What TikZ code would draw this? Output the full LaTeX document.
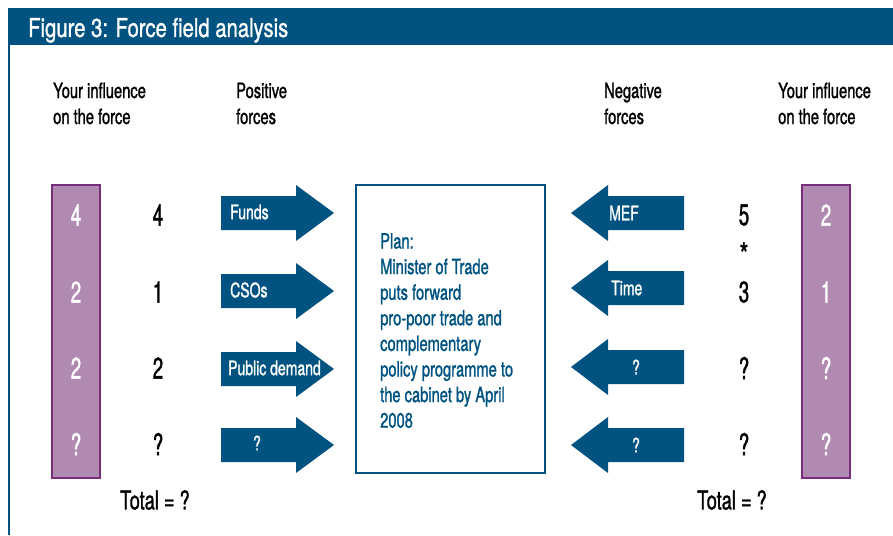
\documentclass[tikz,border=0pt]{standalone}
\usepackage{fontspec}
\setmainfont{TeX Gyre Heros}[FakeStretch=0.70, FakeBold=1.2]
\newfontfamily\titlefont{TeX Gyre Heros}[FakeStretch=0.78, FakeBold=1.0]
\newfontfamily\numfont{TeX Gyre Heros}[FakeStretch=0.62, FakeBold=1.2]
\definecolor{fblue}{RGB}{0,83,128}
\definecolor{fpurf}{RGB}{176,138,176}
\definecolor{fpurd}{RGB}{122,45,122}
\begin{document}
\begin{tikzpicture}[x=1pt,y=-1pt,
  hdr/.style={anchor=base west, inner sep=0, font=\fontsize{21}{24}\selectfont},
  pbox/.style={draw=fpurd, fill=fpurf, line width=2pt, minimum width=48pt, minimum height=293pt, inner sep=0},
  pnum/.style={white, font=\numfont\fontsize{30}{32}\selectfont, inner sep=0},
  bnum/.style={black, font=\numfont\fontsize{30}{32}\selectfont, inner sep=0},
  alab/.style={white, anchor=west, inner sep=0, font=\fontsize{20}{22}\selectfont},
  qlab/.style={white, inner sep=0, font=\fontsize{20}{22}\selectfont},
  tot/.style={font=\fontsize{26}{28}\selectfont, inner sep=0}
]
\useasboundingbox (0,0) rectangle (893,535);
% title bar
\fill[fblue] (8,8) rectangle (893,45);
\node[anchor=base west, inner sep=0, white, font=\titlefont\fontsize{26}{28}\selectfont] (title) at (28,37) {Figure 3: Force field analysis};
\draw[fblue, line width=2pt] (9,45) -- (9,535);
% headers
\node[hdr] (h1a) at (53,98) {Your influence};
\node[hdr] (h1b) at (53,124) {on the force};
\node[hdr] (h2a) at (236,98) {Positive};
\node[hdr] (h2b) at (236,124) {forces};
\node[hdr] (h3a) at (604,98) {Negative};
\node[hdr] (h3b) at (604,124) {forces};
\node[hdr] (h4a) at (778,98) {Your influence};
\node[hdr] (h4b) at (778,124) {on the force};
% purple boxes
\node[pbox] (lbox) at (76,331.5) {};
\node[pbox] (rbox) at (826,331.5) {};
\node[pnum] (l1) at (76,215) {4};
\node[pnum] (l2) at (76,292) {2};
\node[pnum] (l3) at (76,368) {2};
\node[pnum] (l4) at (76,444) {?};
\node[pnum] (r1) at (826,215) {2};
\node[pnum] (r2) at (826,292) {1};
\node[pnum] (r3) at (826,368) {?};
\node[pnum] (r4) at (826,444) {?};
% black numbers
\node[bnum] (b1) at (158,215) {4};
\node[bnum] (b2) at (158,292) {1};
\node[bnum] (b3) at (158,368) {2};
\node[bnum] (b4) at (158,444) {?};
\node[bnum] (c1) at (744,215) {5};
\node[font=\fontsize{32}{34}\selectfont, inner sep=0] (cs) at (744,254) {*};
\node[bnum] (c2) at (744,292) {3};
\node[bnum] (c3) at (744,368) {?};
\node[bnum] (c4) at (744,444) {?};
% right-pointing arrows
\foreach \c in {213,291,369,445}{
  \fill[fblue] (221,\c-17) -- (296,\c-17) -- (296,\c-28) -- (334,\c) -- (296,\c+28) -- (296,\c+17) -- (221,\c+17) -- cycle;
}
\node[alab] (p1) at (230,212) {Funds};
\node[alab] (p2) at (230,290) {CSOs};
\node[alab] (p3) at (228,368) {Public demand};
\node[qlab] (p4) at (257,443) {?};
% left-pointing arrows
\foreach \c in {213,288,367,445}{
  \fill[fblue] (684,\c-17) -- (608,\c-17) -- (608,\c-28) -- (571,\c) -- (608,\c+28) -- (608,\c+17) -- (684,\c+17) -- cycle;
}
\node[alab] (n1) at (609,213) {MEF};
\node[alab] (n2) at (611,288) {Time};
\node[qlab] (n3) at (636,367) {?};
\node[qlab] (n4) at (636,445) {?};
% centre box
\node[draw=fblue, line width=2pt, minimum width=189pt, minimum height=288pt, inner sep=0] (plan) at (450.5,329) {};
\node[anchor=north west, inner sep=0, align=left, text=fblue, font=\fontsize{21}{25.6}\selectfont] (plantext) at (380,233) {Plan:\\Minister of Trade\\puts forward\\pro-poor trade and\\complementary\\policy programme to\\the cabinet by April\\2008};
% totals
\node[tot] (t1) at (155,500) {Total = ?};
\node[tot] (t2) at (732,500) {Total = ?};
\end{tikzpicture}
\end{document}
